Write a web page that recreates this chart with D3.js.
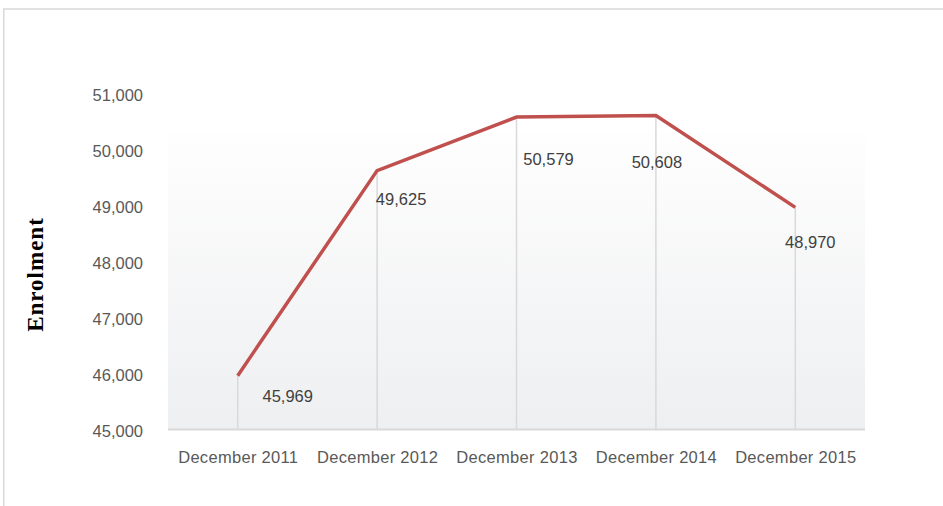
<!DOCTYPE html>
<html>
<head>
<meta charset="utf-8">
<script src="https://cdn.jsdelivr.net/npm/d3@7"></script>
<style>
  body { margin: 0; background: #fff; }
  svg { display: block; }
</style>
</head>
<body>
<div id="chart"></div>
<script>
var w = 943;
var h = 506;

// data
var months = ["December 2011", "December 2012", "December 2013", "December 2014", "December 2015"];
var enrolment = [45969, 49625, 50579, 50608, 48970];
var yTicks = [45000, 46000, 47000, 48000, 49000, 50000, 51000];

// label nudges, roughly where Excel left them
var labelDx = [50, 24, 32, 1, 15];
var labelDy = [20, 28, 42, 46, 34];

var plotLeft = 168;
var plotRight = 865;
var plotTop = 133;
var plotBottom = 430;

var svg = d3.select("#chart")
            .append("svg")
            .attr("width", w)
            .attr("height", h);

var defs = svg.append("defs");
var grad = defs.append("linearGradient")
               .attr("id", "plotFill")
               .attr("x1", 0).attr("y1", 0)
               .attr("x2", 0).attr("y2", 1);
grad.append("stop").attr("offset", "0%").attr("stop-color", "#fefefe");
grad.append("stop").attr("offset", "100%").attr("stop-color", "#eeeff1");

// outer frame (only top and left show in the crop)
svg.append("path")
   .attr("d", "M3.75," + h + "V9H" + w)
   .attr("fill", "none")
   .attr("stroke", "#d9d9d9")
   .attr("stroke-width", 1.5);

var x = d3.scalePoint()
          .domain(months)
          .range([plotLeft, plotRight])
          .padding(0.5);

var y = d3.scaleLinear()
          .domain([45000, 51000])
          .range([plotBottom, 93.5]);

svg.append("rect")
   .attr("x", plotLeft)
   .attr("y", plotTop)
   .attr("width", plotRight - plotLeft)
   .attr("height", plotBottom - plotTop)
   .attr("fill", "url(#plotFill)");

// y axis labels, no line
var yAxis = svg.append("g")
               .attr("transform", "translate(143,0)")
               .call(d3.axisLeft(y)
                       .tickValues(yTicks)
                       .tickSize(0)
                       .tickPadding(0)
                       .tickFormat(d3.format(",")));
yAxis.select(".domain").remove();
yAxis.selectAll("text")
     .attr("dy", "0.42em")
     .attr("fill", "#595959")
     .attr("font-family", "'Liberation Sans', Arial, sans-serif")
     .attr("font-size", 16.5);

// drop lines
svg.append("g")
   .selectAll("line")
   .data(enrolment)
   .join("line")
   .attr("x1", function(d, i) { return x(months[i]); })
   .attr("x2", function(d, i) { return x(months[i]); })
   .attr("y1", function(d) { return y(d); })
   .attr("y2", plotBottom)
   .attr("stroke", "#d9d9d9")
   .attr("stroke-width", 1.5);

// x axis
var xAxis = svg.append("g")
               .attr("transform", "translate(0," + (plotBottom - 0.5) + ")")
               .call(d3.axisBottom(x).tickSize(0).tickPadding(0));
xAxis.select(".domain")
     .attr("d", "M" + plotLeft + ",0H" + plotRight)
     .attr("stroke", "#d9d9d9")
     .attr("stroke-width", 2);
xAxis.selectAll("text")
     .attr("y", 33)
     .attr("dy", 0)
     .attr("fill", "#595959")
     .attr("font-family", "'Liberation Sans', Arial, sans-serif")
     .attr("font-size", 16.5)
     .attr("letter-spacing", 0.3);

// the series
var line = d3.line()
             .x(function(d, i) { return x(months[i]); })
             .y(function(d) { return y(d); });

svg.append("path")
   .datum(enrolment)
   .attr("d", line)
   .attr("fill", "none")
   .attr("stroke", "#c0504d")
   .attr("stroke-width", 3.5)
   .attr("stroke-linejoin", "miter");

// value labels
svg.append("g")
   .selectAll("text")
   .data(enrolment)
   .join("text")
   .attr("x", function(d, i) { return x(months[i]) + labelDx[i]; })
   .attr("y", function(d, i) { return y(d) + labelDy[i]; })
   .attr("dy", "0.38em")
   .attr("text-anchor", "middle")
   .attr("fill", "#404040")
   .attr("font-family", "'Liberation Sans', Arial, sans-serif")
   .attr("font-size", 16.5)
   .text(d3.format(","));

// axis title
svg.append("text")
   .attr("transform", "translate(43,274.5) rotate(-90)")
   .attr("text-anchor", "middle")
   .attr("font-family", "'Liberation Serif', 'Times New Roman', serif")
   .attr("font-weight", "bold")
   .attr("font-size", 23)
   .attr("letter-spacing", 1)
   .attr("fill", "#000")
   .text("Enrolment");
</script>
</body>
</html>
